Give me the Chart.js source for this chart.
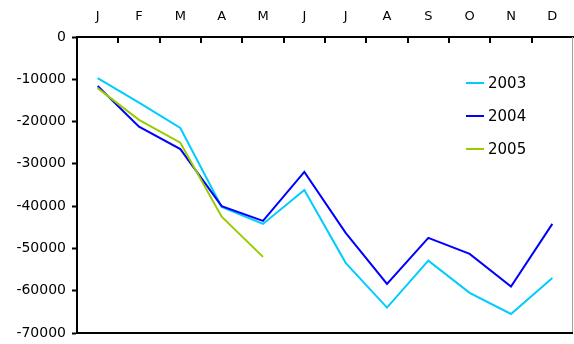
<!DOCTYPE html>
<html>
<head>
<meta charset="utf-8">
<script src="https://cdn.jsdelivr.net/npm/chart.js@4"></script>
<style>
html,body{margin:0;padding:0;background:#fff;}
#wrap{width:574px;height:344px;position:relative;}
</style>
</head>
<body>
<div id="wrap"><canvas id="c" width="574" height="344"></canvas></div>
<script>
const months = ['J','F','M','A','M','J','J','A','S','O','N','D'];
const seriesNames = ['2003','2004','2005'];
const values2003 = [-9700, -15500, -21500, -40200, -44200, -36200, -53400, -64000, -52900, -60500, -65500, -57000];
const values2004 = [-11600, -21200, -26500, -40000, -43500, -31900, -46300, -58400, -47500, -51300, -59000, -44200];
const values2005 = [-12100, -19600, -25000, -42500, -52000, null, null, null, null, null, null, null];
const yTicks = [0, -10000, -20000, -30000, -40000, -50000, -60000, -70000];

const colors = ['#00CCFF', '#0000FF', '#99CC00'];
const FONT = "'DejaVu Sans', sans-serif";

const framePlugin = {
  id: 'frame',
  afterDraw(chart) {
    const ctx = chart.ctx;
    const a = chart.chartArea;
    const xs = chart.scales.x;
    ctx.save();
    // right border (light gray)
    ctx.strokeStyle = '#a0a0a0';
    ctx.lineWidth = 1;
    ctx.beginPath();
    ctx.moveTo(a.right - 0.5, a.top);
    ctx.lineTo(a.right - 0.5, a.bottom);
    ctx.stroke();
    // bottom border
    ctx.strokeStyle = '#000';
    ctx.lineWidth = 2;
    ctx.beginPath();
    ctx.moveTo(a.left, a.bottom);
    ctx.lineTo(a.right, a.bottom);
    ctx.stroke();
    // inward category tick marks on the top axis
    ctx.lineWidth = 2;
    for (let i = 1; i < months.length; i++) {
      const x = Math.round((xs.getPixelForValue(i - 1) + xs.getPixelForValue(i)) / 2);
      ctx.beginPath();
      ctx.moveTo(x, a.top);
      ctx.lineTo(x, a.top + 6);
      ctx.stroke();
    }
    // legend inside the plot area
    ctx.font = '15px ' + FONT;
    ctx.textBaseline = 'middle';
    ctx.textAlign = 'left';
    const lx = a.left + 389;
    const ys = [83, 116, 149];
    chart.data.datasets.forEach((ds, i) => {
      ctx.strokeStyle = ds.borderColor;
      ctx.lineWidth = 2;
      ctx.beginPath();
      ctx.moveTo(lx, ys[i]);
      ctx.lineTo(lx + 18, ys[i]);
      ctx.stroke();
      ctx.fillStyle = '#000';
      ctx.fillText(ds.label, lx + 22, ys[i] + 1);
    });
    ctx.restore();
  }
};

new Chart(document.getElementById('c'), {
  type: 'line',
  data: {
    labels: months,
    datasets: [
      { label: seriesNames[0], data: values2003, borderColor: colors[0], backgroundColor: colors[0], order: 3 },
      { label: seriesNames[1], data: values2004, borderColor: colors[1], backgroundColor: colors[1], order: 2 },
      { label: seriesNames[2], data: values2005, borderColor: colors[2], backgroundColor: colors[2], order: 1 }
    ]
  },
  options: {
    responsive: false,
    animation: false,
    devicePixelRatio: 1,
    layout: { padding: { left: 0, right: 1, top: 0, bottom: 11 } },
    elements: {
      line: { borderWidth: 2, tension: 0 },
      point: { radius: 0, hoverRadius: 0 }
    },
    plugins: { legend: { display: false }, tooltip: { enabled: false } },
    scales: {
      x: {
        position: 'top',
        offset: true,
        grid: { display: true, offset: true, drawOnChartArea: false, drawTicks: false },
        border: { display: true, color: '#000', width: 2 },
        ticks: { color: '#000', font: { family: FONT, size: 13 }, padding: 13, maxRotation: 0, autoSkip: false },
        afterFit(s) { s.height = 37; s.paddingLeft = 0; s.paddingRight = 0; }
      },
      y: {
        min: -70000,
        max: 0,
        afterBuildTicks(s) { s.ticks = yTicks.map(v => ({ value: v })); },
        grid: { display: true, drawOnChartArea: false, drawTicks: true, tickLength: 5, color: '#000', tickWidth: 2 },
        border: { display: true, color: '#000', width: 2 },
        ticks: { color: '#000', font: { family: FONT, size: 14 }, padding: 6, callback: v => String(v) },
        afterFit(s) { s.width = 77; s.paddingTop = 0; s.paddingBottom = 0; }
      }
    }
  },
  plugins: [framePlugin]
});
</script>
</body>
</html>
